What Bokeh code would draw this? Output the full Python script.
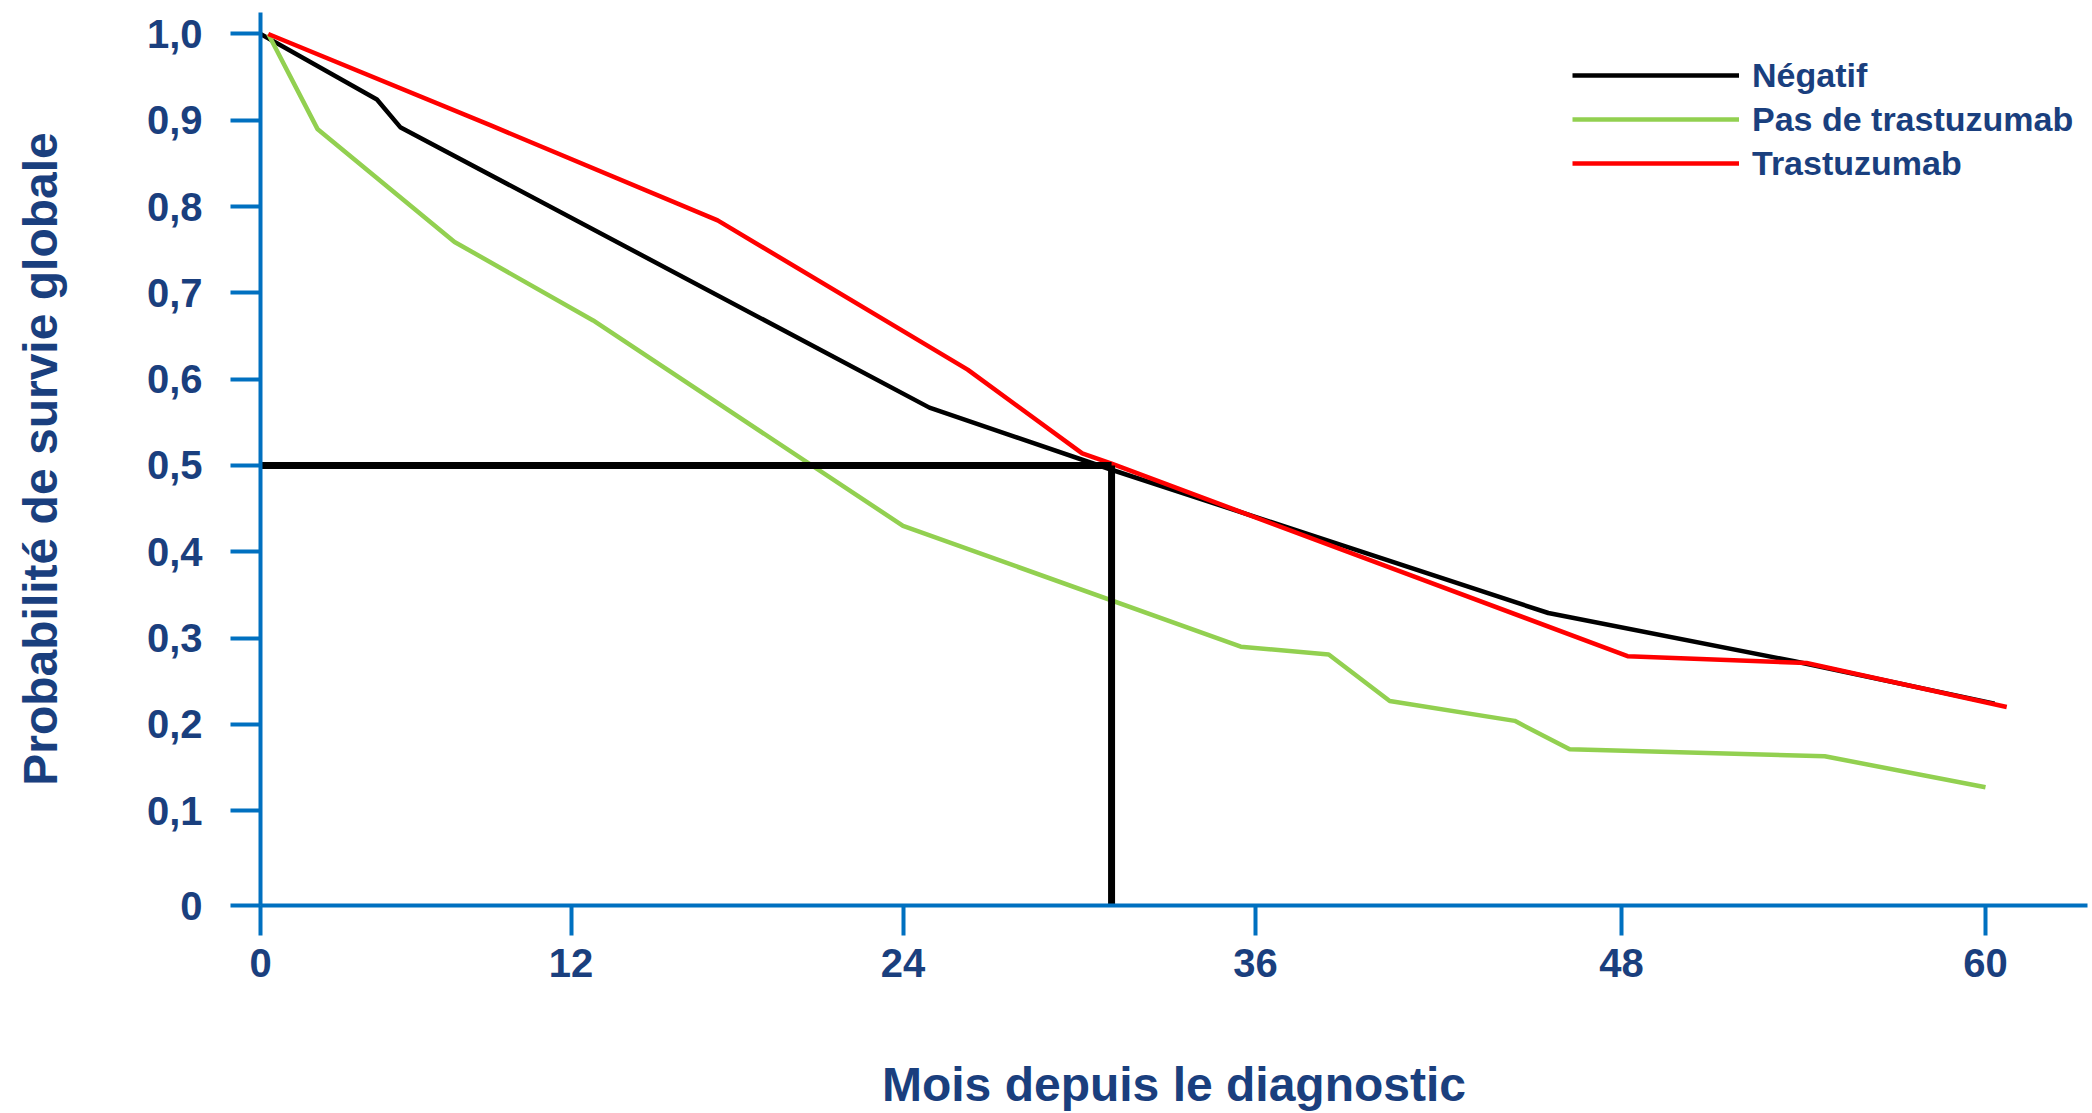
import numpy as np
from bokeh.plotting import figure
from bokeh.models import Range1d, FixedTicker, Legend, LegendItem
from bokeh.embed import file_html
from bokeh.resources import INLINE

# ---------------- data (months since diagnosis, overall survival) ----------------
negatif_months = [0.0, 4.5, 5.4, 24.9, 31.1, 45.6, 53.7, 60.3]
negatif_surv = [1.0, 0.924, 0.892, 0.567, 0.495, 0.329, 0.273, 0.224]

pas_trastu_months = [0.3, 2.2, 7.5, 12.8, 24.0, 35.5, 38.4, 40.4, 44.5, 46.3, 54.7, 60.0]
pas_trastu_surv = [1.0, 0.890, 0.759, 0.668, 0.430, 0.290, 0.281, 0.227, 0.204, 0.171, 0.163, 0.127]

trastu_months = [0.3, 8.9, 17.3, 26.2, 30.1, 31.1, 48.2, 54.1, 60.7]
trastu_surv = [1.0, 0.894, 0.784, 0.611, 0.514, 0.502, 0.279, 0.271, 0.220]

median_surv = 0.5
median_months = 31.1

series_names = ["Négatif", "Pas de trastuzumab", "Trastuzumab"]

x_tick_months = [0, 12, 24, 36, 48, 60]
x_tick_labels = ["0", "12", "24", "36", "48", "60"]
y_tick_values = [0.0, 0.1, 0.2, 0.3, 0.4, 0.5, 0.6, 0.7, 0.8, 0.9, 1.0]
y_tick_labels = ["0", "0,1", "0,2", "0,3", "0,4", "0,5", "0,6", "0,7", "0,8", "0,9", "1,0"]

# ---------------- axis warp (the original axes are not evenly spaced) ----------------
X_KNOT_PX = [0.0, 310.5, 642.5, 995.0, 1361.0, 1725.0]
Y_KNOT_VAL = [0.0, 0.1, 1.0]
Y_KNOT_PX = [0.0, 95.0, 872.5]


def warp(v, kv, kp):
    v = np.asarray(v, dtype=float)
    out = np.interp(v, kv, kp)
    lo = (kp[1] - kp[0]) / (kv[1] - kv[0])
    hi = (kp[-1] - kp[-2]) / (kv[-1] - kv[-2])
    out = np.where(v < kv[0], kp[0] + (v - kv[0]) * lo, out)
    out = np.where(v > kv[-1], kp[-1] + (v - kv[-1]) * hi, out)
    return out


def wx(m):
    return warp(m, x_tick_months, X_KNOT_PX)


def wy(s):
    return warp(s, Y_KNOT_VAL, Y_KNOT_PX)


TXT = "#1A3F7E"
AX = "#0070C0"
FONT = "Liberation Sans"

p = figure(width=2092, height=1113, output_backend="svg", toolbar_location=None,
           x_range=Range1d(0, 1827), y_range=Range1d(0, 894),
           min_border_left=260, min_border_right=5, min_border_top=12, min_border_bottom=207)
p.outline_line_color = None
p.grid.visible = False
p.background_fill_color = "white"

r_neg = p.line(wx(negatif_months), wy(negatif_surv), line_color="#000000", line_width=4.5)
r_pas = p.line(wx(pas_trastu_months), wy(pas_trastu_surv), line_color="#92D050", line_width=4.5)
r_tra = p.line(wx(trastu_months), wy(trastu_surv), line_color="#FF0000", line_width=4.5)

# median reading lines
p.line(wx([-0.5, median_months]), wy([median_surv, median_surv]), line_color="#000000", line_width=7)
p.line(wx([median_months, median_months]), wy([median_surv, 0.0]), line_color="#000000", line_width=7)

# axes
xt = [float(v) for v in wx(x_tick_months)]
yt = [float(v) for v in wy(y_tick_values)]
p.xaxis.ticker = FixedTicker(ticks=xt)
p.xaxis.major_label_overrides = {t: l for t, l in zip(xt, x_tick_labels)}
p.yaxis.ticker = FixedTicker(ticks=yt)
p.yaxis.major_label_overrides = {t: l for t, l in zip(yt, y_tick_labels)}

for ax in (p.xaxis[0], p.yaxis[0]):
    ax.axis_line_color = AX
    ax.axis_line_width = 4
    ax.major_tick_line_color = AX
    ax.major_tick_line_width = 4
    ax.major_tick_in = 0
    ax.major_tick_out = 30
    ax.minor_tick_line_color = None
    ax.major_label_text_font = FONT
    ax.major_label_text_font_style = "bold"
    ax.major_label_text_font_size = "40px"
    ax.major_label_text_color = TXT
    ax.axis_label_text_font = FONT
    ax.axis_label_text_font_style = "bold"
    ax.axis_label_text_color = TXT

p.xaxis.major_label_standoff = 13
p.yaxis.major_label_standoff = 28
p.xaxis.axis_label = "Mois depuis le diagnostic"
p.xaxis.axis_label_text_font_size = "48px"
p.xaxis.axis_label_standoff = 78
p.yaxis.axis_label = "Probabilité de survie globale"
p.yaxis.axis_label_text_font_size = "48px"
p.yaxis.axis_label_standoff = 77

legend = Legend(items=[LegendItem(label=series_names[0], renderers=[r_neg]),
                       LegendItem(label=series_names[1], renderers=[r_pas]),
                       LegendItem(label=series_names[2], renderers=[r_tra])],
                location=(1312, 720), orientation="vertical",
                glyph_width=167, glyph_height=44, label_height=44, spacing=0,
                padding=0, margin=0, label_standoff=13,
                label_text_font=FONT, label_text_font_style="bold",
                label_text_font_size="34px", label_text_color=TXT,
                border_line_alpha=0, background_fill_alpha=0)
p.add_layout(legend)

open("out.html", "w").write(file_html(p, INLINE))
